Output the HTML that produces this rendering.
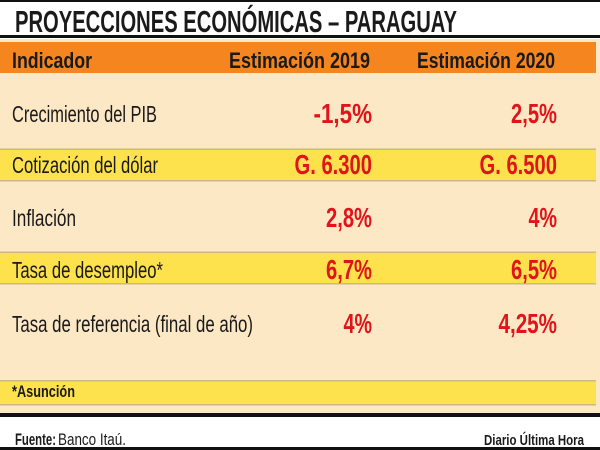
<!DOCTYPE html>
<html><head><meta charset="utf-8"><style>
html,body{margin:0;padding:0;background:#fff;}
svg{display:block;}
text{font-family:"Liberation Sans",sans-serif;}
</style></head><body>
<svg id="t" width="600" height="450" viewBox="0 0 600 450" xmlns="http://www.w3.org/2000/svg">
<rect x="0" y="0" width="600" height="450" fill="#fff"/>
<rect x="0" y="0" width="600" height="2" fill="#111"/>
<text x="15" y="32" font-size="31" font-weight="bold" fill="#1a1a1a" textLength="442" lengthAdjust="spacingAndGlyphs">PROYECCIONES ECONÓMICAS – PARAGUAY</text>
<rect x="0" y="35" width="600" height="3" fill="#111"/>
<rect x="0" y="39" width="600" height="374" fill="#fde8c5"/>
<rect x="0" y="42" width="596" height="31" fill="#f5861f"/>
<text x="12" y="68" font-size="22" font-weight="bold" fill="#1a1a1a" textLength="80" lengthAdjust="spacingAndGlyphs">Indicador</text>
<text x="229" y="68" font-size="22" font-weight="bold" fill="#1a1a1a" textLength="141" lengthAdjust="spacingAndGlyphs">Estimación 2019</text>
<text x="417" y="68" font-size="22" font-weight="bold" fill="#1a1a1a" textLength="138" lengthAdjust="spacingAndGlyphs">Estimación 2020</text>
<g id="rows"></g>
<rect x="0" y="381" width="596" height="23" fill="#fde24e"/>
<rect x="0" y="380" width="596" height="1.5" fill="#c9b98a"/>
<rect x="0" y="404" width="596" height="1.5" fill="#c9b98a"/>
<text x="12" y="397" font-size="17" font-weight="bold" fill="#1a1a1a" textLength="63" lengthAdjust="spacingAndGlyphs">*Asunción</text>
<rect x="0" y="413" width="600" height="4" fill="#111"/>
<text x="15" y="445" font-size="17" font-weight="bold" fill="#1a1a1a" textLength="41" lengthAdjust="spacingAndGlyphs">Fuente:</text>
<text x="58" y="445" font-size="17" fill="#1a1a1a" textLength="68" lengthAdjust="spacingAndGlyphs">Banco Itaú.</text>
<text x="584" y="445" font-size="15" font-weight="bold" fill="#1a1a1a" text-anchor="end" textLength="100" lengthAdjust="spacingAndGlyphs">Diario Última Hora</text>
<rect x="0" y="447" width="600" height="3" fill="#111"/>
</svg>
<script>
const indicators = ["Crecimiento del PIB","Cotización del dólar","Inflación","Tasa de desempleo*","Tasa de referencia (final de año)"];
const values2019 = ["-1,5%","G. 6.300","2,8%","6,7%","4%"];
const values2020 = ["2,5%","G. 6.500","4%","6,5%","4,25%"];
const highlighted = [false,true,false,true,false];

const NS="http://www.w3.org/2000/svg";
const g=document.getElementById('rows');
const baselines=[122,173,226,278,332];
const yellowTop=[0,150,0,253,0];
const labelW=[145,146,64,151,241];
function mk(tag,attrs){const e=document.createElementNS(NS,tag);for(const k in attrs)e.setAttribute(k,attrs[k]);g.appendChild(e);return e;}
function valW(s){let w=0;for(const c of s){w+= (c==='.'||c===',')?5:(c===' '?5:(c==='%'?16:12.5));}return w;}
indicators.forEach((lab,i)=>{
  if(highlighted[i]){
    const r=mk('rect',{x:0,y:yellowTop[i],width:596,height:30,fill:'#fde24e'});
    
    
    const l1=mk('rect',{x:0,y:yellowTop[i]-1.5,width:596,height:1.5,fill:'#c9b98a'});
    
    
    const l2=mk('rect',{x:0,y:yellowTop[i]+30,width:596,height:1.5,fill:'#c9b98a'});
    
    
  }
  const b=baselines[i];
  const t=mk('text',{x:12,y:b,'font-size':23,fill:'#1a1a1a',textLength:labelW[i],lengthAdjust:'spacingAndGlyphs'});
  t.textContent=lab;
  
  
  [[values2019[i],372],[values2020[i],557]].forEach(([v,xr],j)=>{
    const w=valW(v);
    const e=mk('text',{x:xr-w,y:b+1,'font-size':28,'font-weight':'bold',fill:'#e0141b',textLength:w,lengthAdjust:'spacingAndGlyphs'});
    e.textContent=v;
    
    
  });
});
</script>
</body></html>
